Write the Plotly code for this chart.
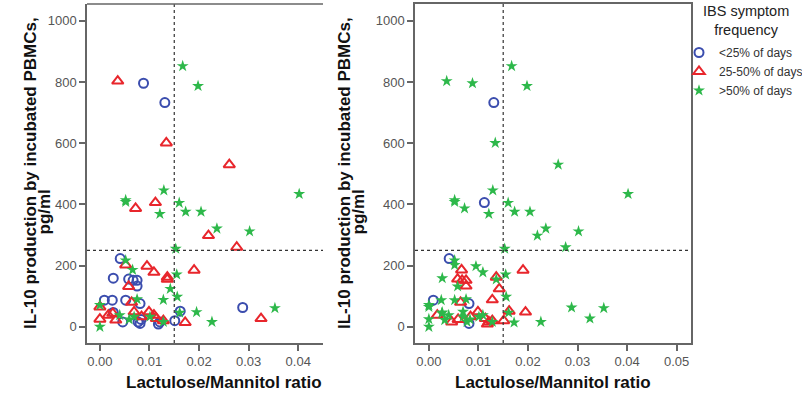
import plotly.graph_objects as go

lm_ratio = [0.0088, 0.0131, 0.0036, 0.0134, 0.0261, 0.0167, 0.0198, 0.0129, 0.0402, 0.0052,
            0.0052, 0.0112, 0.0072, 0.0121, 0.0160, 0.0173, 0.0204, 0.0236, 0.0302, 0.0219,
            0.0276, 0.0153, 0.0041, 0.0052, 0.0052, 0.0066, 0.0095, 0.0109, 0.0136, 0.0136,
            0.0190, 0.0155, 0.0027, 0.0058, 0.0067, 0.0075, 0.0075, 0.0058, 0.0142, 0.0156,
            0.0128, 0.0009, 0.0025, 0.0052, 0.0075, 0.0081, 0.0064, 0.0000, 0.0000, 0.0162,
            0.0195, 0.0288, 0.0353, 0.0325, 0.0226, 0.0172, 0.0151, 0.0161, 0.0000, 0.0000,
            0.0017, 0.0026, 0.0032, 0.0027, 0.0046, 0.0040, 0.0059, 0.0069, 0.0077, 0.0081,
            0.0083, 0.0069, 0.0084, 0.0099, 0.0101, 0.0109, 0.0114, 0.0118, 0.0121, 0.0128,
            0.0128]
il10 = [796, 733, 803, 601, 530, 852, 787, 446, 434, 414,
        408, 406, 387, 369, 405, 376, 376, 321, 312, 298,
        260, 255, 223, 217, 202, 186, 198, 178, 162, 155,
        185, 171, 159, 156, 152, 152, 133, 132, 124, 98,
        88, 87, 87, 87, 90, 76, 80, 71, 65, 51,
        48, 63, 61, 27, 16, 14, 20, 46, 25, 0,
        38, 44, 22, 47, 16, 38, 24, 49, 16, 11,
        24, 33, 33, 49, 33, 38, 27, 9, 16, 16,
        20]
# Symptom-frequency group per subject: C = <25%, T = 25-50%, S = >50% of days
group_left = ["C", "C", "T", "T", "T", "S", "S", "S", "S", "S",
              "S", "T", "T", "S", "S", "S", "S", "S", "S", "T",
              "T", "S", "C", "S", "T", "S", "T", "T", "T", "T",
              "T", "S", "C", "C", "C", "C", "C", "T", "S", "S",
              "S", "C", "C", "C", "S", "C", "T", "S", "T", "C",
              "S", "C", "S", "T", "S", "T", "C", "S", "T", "S",
              "T", "T", "T", "C", "C", "S", "S", "T", "C", "C",
              "C", "S", "T", "T", "S", "T", "T", "C", "C", "S",
              "T"]
group_right = ["S", "C", "S", "S", "S", "S", "S", "S", "S", "S",
               "S", "C", "S", "S", "S", "S", "S", "S", "S", "S",
               "S", "S", "C", "S", "S", "T", "S", "S", "T", "S",
               "T", "S", "S", "T", "T", "T", "T", "S", "T", "S",
               "T", "C", "S", "S", "S", "C", "T", "S", "S", "T",
               "T", "S", "S", "S", "S", "S", "T", "S", "S", "S",
               "T", "S", "S", "S", "T", "S", "T", "S", "S", "C",
               "S", "S", "T", "T", "S", "S", "T", "T", "T", "S",
               "T"]
group_labels = {"C": "<25% of days", "T": "25-50% of days", "S": ">50% of days"}
x_ticks_left = [0.00, 0.01, 0.02, 0.03, 0.04]
x_ticks_right = [0.00, 0.01, 0.02, 0.03, 0.04, 0.05]
y_ticks = [0, 200, 400, 600, 800, 1000]
x_cut = 0.015
y_cut = 250

styles = {
    "C": dict(symbol="circle-open", color="#3B4DAE", size=9, line=dict(width=2, color="#3B4DAE")),
    "T": dict(symbol="triangle-up-open", color="#E8262C", size=10, line=dict(width=2, color="#E8262C")),
    "S": dict(symbol="star", color="#2DB84A", size=9, line=dict(width=0)),
}

fig = go.Figure()
for panel, groups in ((1, group_left), (2, group_right)):
    for g in ["C", "T", "S"]:
        xs = [x for x, gg in zip(lm_ratio, groups) if gg == g]
        ys = [y for y, gg in zip(il10, groups) if gg == g]
        fig.add_trace(go.Scatter(
            x=xs, y=ys, mode="markers", name=group_labels[g],
            marker=styles[g], showlegend=(panel == 1),
            xaxis="x" if panel == 1 else "x2", yaxis="y" if panel == 1 else "y2",
        ))

axcol = "#666666"
FONT = "Liberation Sans, Arial, sans-serif"
tickfont = dict(family=FONT, size=13, color="#555555")
common_x = dict(showgrid=False, zeroline=False, showline=True, linecolor=axcol, linewidth=1.5,
                ticks="outside", ticklen=6, tickcolor=axcol, tickwidth=1.5, tickfont=tickfont,
                tickformat=".2f")
common_y = dict(showgrid=False, zeroline=False, showline=True, linecolor=axcol, linewidth=1.5,
                ticks="outside", ticklen=6, tickcolor=axcol, tickwidth=1.5, tickfont=tickfont,
                tickvals=y_ticks, range=[-53, 1055])

fig.update_layout(
    width=802, height=398, autosize=False,
    margin=dict(l=0, r=0, t=0, b=0, autoexpand=False),
    paper_bgcolor="white", plot_bgcolor="white",
    font=dict(family=FONT, color="#222222"),
    xaxis=dict(domain=[87 / 802, 323 / 802], range=[-0.0026, 0.045], tickvals=x_ticks_left,
               anchor="y", **common_x),
    yaxis=dict(domain=[1 - 343 / 398, 1 - 4 / 398], anchor="x", **common_y),
    xaxis2=dict(domain=[415 / 802, 691 / 802], range=[-0.0028, 0.0529], tickvals=x_ticks_right,
                anchor="y2", mirror=True, **common_x),
    yaxis2=dict(domain=[1 - 343 / 398, 1 - 4 / 398], anchor="x2", mirror=True, **common_y),
    legend=dict(x=679 / 802, y=1 - 38 / 398, xanchor="left", yanchor="top",
                font=dict(size=12, color="#333333"), itemsizing="trace",
                tracegroupgap=0, bgcolor="rgba(0,0,0,0)"),
)

dot = dict(color="#333333", width=1.2, dash="dot")
for xr, yr in (("x", "y"), ("x2", "y2")):
    fig.add_shape(type="line", xref=xr, yref=f"{yr} domain", x0=x_cut, x1=x_cut, y0=0, y1=1, line=dot)
    fig.add_shape(type="line", xref=f"{xr} domain", yref=yr, x0=0, x1=1, y0=y_cut, y1=y_cut, line=dot)
# top border of left panel
fig.add_shape(type="line", xref="x domain", yref="y domain", x0=0, x1=1, y0=1, y1=1,
              line=dict(color=axcol, width=1.5))

ytitle1 = "IL-10 production by incubated PBMCs,"
ytitle2 = "pg/ml"
xtitle = "Lactulose/Mannitol ratio"
tfont = dict(family=FONT, size=17, color="#111111")
for x1, x2 in ((30, 43.5), (344, 357.5)):
    fig.add_annotation(text=f"<b>{ytitle1}</b>", xref="paper", yref="paper", x=x1 / 802, y=1 - 173 / 398,
                       textangle=-90, showarrow=False, font=tfont, xanchor="center", yanchor="middle")
    fig.add_annotation(text=f"<b>{ytitle2}</b>", xref="paper", yref="paper", x=x2 / 802, y=1 - 212 / 398,
                       textangle=-90, showarrow=False, font=tfont, xanchor="center", yanchor="middle")
for xc in (224, 553):
    fig.add_annotation(text=f"<b>{xtitle}</b>", xref="paper", yref="paper", x=xc / 802, y=1 - 382 / 398,
                       showarrow=False, font=tfont, xanchor="center", yanchor="middle")
fig.add_annotation(text="IBS symptom<br>frequency", xref="paper", yref="paper", x=746 / 802, y=1 - 21 / 398,
                   showarrow=False, font=dict(family=FONT, size=14.5, color="#222222"),
                   xanchor="center", yanchor="middle", align="center")

fig.write_html("out.html", config={"displayModeBar": False},
               post_script="document.body.style.margin='0';document.body.style.overflow='hidden';")
